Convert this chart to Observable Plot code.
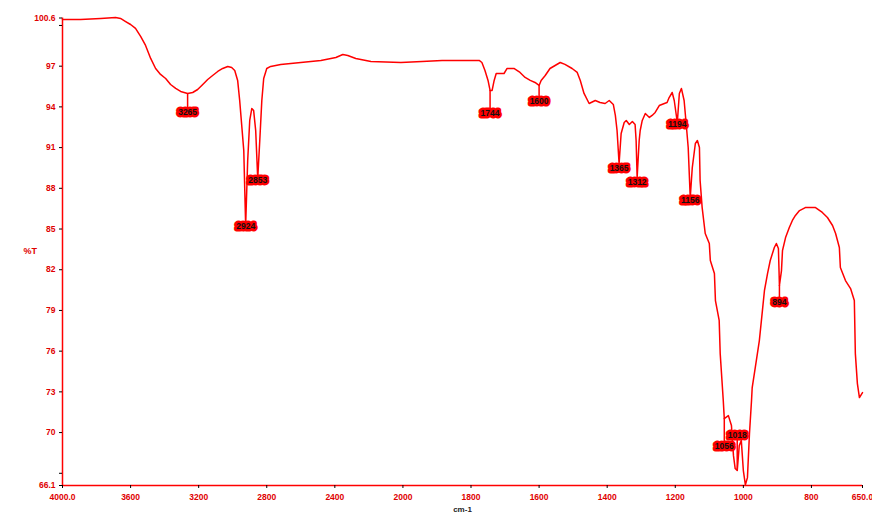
<!DOCTYPE html>
<html><head><meta charset="utf-8">
<script src="https://cdn.jsdelivr.net/npm/d3@7"></script>
<script src="https://cdn.jsdelivr.net/npm/@observablehq/plot@0.6"></script>
<style>body{margin:0;background:#fff}#chart svg{display:block}</style>
</head><body><div id="chart"></div>
<script>
// Spectrum: wavenumber (cm-1) and transmittance (%T)
const wavenumber = [4000,3894,3776,3688,3659,3629,3600,3571,3541,3512,3482,3453,3424,3394,3365,3335,3306,3265,3235,3206,3176,3147,3118,3088,3059,3029,3006,2988,2971,2959,2947,2935,2924,2912,2900,2888,2877,2865,2853,2841,2829,2818,2800,2777,2718,2600,2482,2394,2353,2324,2277,2188,2012,1944,1885,1776,1768,1759,1750,1744,1738,1732,1726,1703,1694,1674,1656,1641,1626,1612,1600,1594,1582,1568,1553,1538,1524,1503,1488,1479,1468,1453,1435,1421,1406,1394,1382,1376,1371,1365,1359,1350,1344,1335,1326,1318,1315,1312,1306,1303,1297,1288,1276,1268,1259,1247,1232,1224,1218,1209,1203,1194,1188,1182,1174,1168,1162,1156,1150,1141,1135,1129,1127,1121,1112,1100,1097,1085,1082,1071,1068,1059,1056,1044,1035,1029,1024,1018,1012,1006,1000,994,988,982,976,974,965,953,944,938,929,921,909,903,897,894,888,885,876,865,856,847,835,818,788,768,753,738,729,718,715,700,685,674,671,665,659,650];
const transmittance = [100.44,100.44,100.52,100.59,100.52,100.29,100.07,99.78,99.19,98.53,97.57,96.83,96.39,96.09,95.65,95.36,95.14,94.99,95.06,95.28,95.65,96.02,96.31,96.61,96.83,96.98,96.90,96.68,95.95,94.47,92.63,90.79,85.26,90.05,93.00,93.88,93.73,92.26,88.72,91.52,94.47,96.09,96.83,96.98,97.13,97.27,97.42,97.64,97.86,97.79,97.57,97.35,97.27,97.35,97.42,97.42,97.27,96.68,95.95,95.21,95.21,95.95,96.46,96.46,96.83,96.83,96.54,96.17,95.95,95.80,95.58,95.95,96.31,96.83,97.05,97.27,97.13,96.83,96.54,95.95,94.99,94.25,94.47,94.32,94.25,94.47,94.18,93.37,92.26,89.83,92.04,92.85,93.00,92.70,92.92,92.70,91.52,88.80,91.52,92.26,93.00,93.51,93.22,93.37,93.59,94.10,94.25,94.32,94.69,95.06,94.47,92.85,94.99,95.36,94.47,92.78,91.01,87.32,89.53,91.30,91.52,91.01,88.57,86.58,84.67,83.93,82.68,81.72,79.73,78.26,75.82,72.36,71.03,71.25,70.52,68.30,67.35,67.20,69.04,69.41,67.20,66.15,66.68,69.93,72.36,73.32,74.79,76.78,78.99,80.47,81.72,82.68,83.64,83.93,83.56,80.84,81.94,83.42,84.37,85.11,85.63,86.00,86.36,86.58,86.58,86.22,85.85,85.26,84.67,83.64,82.16,81.20,80.61,79.73,75.82,73.61,72.58,72.95];

// Peak picks
const peakWavenumber = [3265,2924,2853,1744,1600,1365,1312,1194,1156,1056,1018,894];
const peakMinT       = [94.99,85.26,88.72,95.21,95.58,89.83,88.80,92.85,87.32,71.03,67.20,80.84];
const peakLabelT     = [93.59,85.18,88.58,93.51,94.40,89.46,88.43,92.70,87.10,68.97,69.78,79.58];
const peakLabels     = ["3265","2924","2853","1744","1600","1365","1312","1194","1156","1056","1018","894"];

// Axes
const xTicks = [4000,3600,3200,2800,2400,2000,1800,1600,1400,1200,1000,800,650];
const xTickLabels = ["4000.0","3600","3200","2800","2400","2000","1800","1600","1400","1200","1000","800","650.0"];
const xBreak = 2000; // abscissa expands 2x below 2000 cm-1
const yTicks = [100.55,100,97,94,91,88,85,82,79,76,73,70,67,66.1];
const yTickLabels = ["100.6","","97","94","91","88","85","82","79","76","73","70","","66.1"];
const yLabel = "%T";
const xLabel = "cm-1";

const spectrum = wavenumber.map((w, i) => ({w, t: transmittance[i]}));
const peaks = peakWavenumber.map((w, i) => ({w, tMin: peakMinT[i], tLab: peakLabelT[i], label: peakLabels[i]}));
const xFmt = new Map(xTicks.map((t, i) => [t, xTickLabels[i]]));
const yFmt = new Map(yTicks.map((t, i) => [t, yTickLabels[i]]));
// piecewise abscissa: 4000..2000 compressed, 2000..650 expanded by 2
const xWarp = w => w >= xBreak ? (4000 - w) / 2 : (4000 - xBreak) / 2 + (xBreak - w);

const chart = Plot.plot({
  width: 872, height: 515,
  marginLeft: 62, marginRight: 10, marginTop: 17, marginBottom: 30,
  style: {fontFamily: "Liberation Sans", fontSize: "8px", background: "#fff", overflow: "visible"},
  x: {transform: xWarp, domain: [xWarp(4000), xWarp(650)], label: null},
  y: {domain: [66.1, 100.55], range: [485, 17.5], label: null},
  marks: [
    Plot.ruleX([4000], {y1: 66.1, y2: 100.55, stroke: "red", strokeWidth: 1.5}),
    Plot.ruleY([66.1], {stroke: "red", strokeWidth: 1.5}),
    Plot.axisX(xTicks, {x: d => d, tickFormat: d => xFmt.get(d), tickSize: 3, tickPadding: 5, stroke: "black", fill: "#e00000", fontWeight: "bold", fontSize: 8.5, label: null}),
    Plot.axisY({ticks: yTicks, tickFormat: d => yFmt.get(d), tickSize: 3, tickPadding: 4, stroke: "black", fill: "#e00000", fontWeight: "bold", fontSize: 8.5, label: null}),
    Plot.ruleX(peaks, {x: "w", y1: "tMin", y2: "tLab", stroke: "red", strokeWidth: 1.5}),
    Plot.line(spectrum, {x: "w", y: "t", stroke: "red", strokeWidth: 1.5, curve: "linear"}),
    Plot.text(peaks, {x: "w", y: "tLab", text: "label", fill: "#111", stroke: "red", strokeWidth: 5, strokeLinejoin: "round", fontSize: 8.5, fontWeight: "bold", lineAnchor: "middle"}),
    Plot.text([yLabel], {frameAnchor: "left", dx: -39, text: d => d, fill: "#e00000", fontWeight: "bold", fontSize: 9}),
    Plot.text([xLabel], {frameAnchor: "bottom", dy: 26, text: d => d, fill: "#222", fontWeight: "bold", fontSize: 8})
  ]
});
document.getElementById("chart").append(chart);
</script>
</body></html>
